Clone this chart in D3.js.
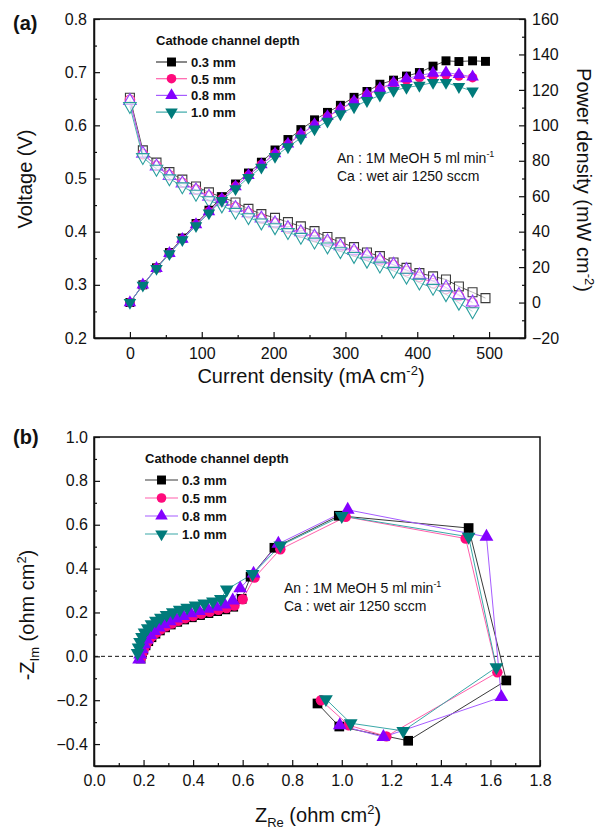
<!DOCTYPE html>
<html>
<head>
<meta charset="utf-8">
<title>Cathode channel depth</title>
<script src="https://d3js.org/d3.v7.min.js"></script>
<style>
  body { margin: 0; background: #fff; }
  svg text { font-family: Arial, "Liberation Sans", sans-serif; fill: #111; }
</style>
</head>
<body>
<svg id="fig" width="598" height="829"></svg>
<script>
// ---- (a) polarisation / power curves ----
var current03 = [0, 18, 37, 55, 73, 92, 110, 128, 147, 165, 183, 202, 220, 238, 257, 275, 293, 312, 330, 348, 367, 385, 403, 422, 440, 458, 477, 495];
var current = [0, 18, 37, 55, 73, 92, 110, 128, 147, 165, 183, 202, 220, 238, 257, 275, 293, 312, 330, 348, 367, 385, 403, 422, 440, 458, 477];

var volt03 = [0.652, 0.553, 0.530, 0.512, 0.498, 0.485, 0.474, 0.465, 0.455, 0.443, 0.433, 0.426, 0.418, 0.410, 0.401, 0.390, 0.380, 0.371, 0.361, 0.354, 0.342, 0.332, 0.322, 0.316, 0.310, 0.297, 0.286, 0.275];
var volt05 = [0.648, 0.546, 0.524, 0.506, 0.492, 0.479, 0.467, 0.457, 0.446, 0.435, 0.425, 0.416, 0.406, 0.398, 0.390, 0.381, 0.372, 0.363, 0.355, 0.346, 0.337, 0.326, 0.315, 0.303, 0.292, 0.279, 0.266];
var volt08 = [0.646, 0.547, 0.523, 0.505, 0.491, 0.478, 0.466, 0.456, 0.445, 0.435, 0.425, 0.416, 0.407, 0.399, 0.391, 0.382, 0.373, 0.364, 0.356, 0.347, 0.338, 0.328, 0.318, 0.307, 0.295, 0.281, 0.267];
var volt10 = [0.636, 0.540, 0.518, 0.500, 0.485, 0.471, 0.459, 0.449, 0.437, 0.427, 0.417, 0.408, 0.399, 0.390, 0.381, 0.372, 0.363, 0.354, 0.345, 0.336, 0.326, 0.315, 0.304, 0.294, 0.282, 0.266, 0.250];

var power03 = [0, 10.0, 19.6, 28.2, 36.4, 44.6, 52.1, 59.5, 66.9, 73.1, 79.2, 86.1, 92.0, 97.6, 103.1, 107.3, 111.3, 115.8, 119.1, 123.2, 125.5, 127.8, 129.8, 133.4, 136.4, 136.0, 136.4, 136.1];
var power05 = [0, 9.8, 19.4, 27.8, 35.9, 44.1, 51.4, 58.5, 65.6, 71.8, 77.8, 84.0, 89.3, 94.7, 100.2, 104.8, 109.0, 113.3, 117.2, 120.4, 123.7, 125.5, 126.9, 127.9, 128.5, 127.8, 126.9];
var power08 = [0, 10.0, 19.3, 27.8, 35.8, 44.0, 51.3, 58.4, 65.4, 71.8, 77.8, 84.0, 89.5, 95.0, 100.5, 105.0, 109.3, 113.6, 117.5, 120.8, 124.0, 126.3, 128.2, 129.5, 129.8, 128.7, 127.4];
var power10 = [0, 9.7, 19.2, 27.5, 35.4, 43.3, 50.5, 57.5, 64.2, 70.5, 76.3, 82.4, 87.8, 92.8, 97.9, 102.3, 106.4, 110.4, 113.9, 116.9, 119.6, 121.3, 122.5, 124.1, 124.1, 121.8, 119.3];

// ---- (b) impedance spectra ----
var zre03 = [0.188, 0.192, 0.199, 0.208, 0.219, 0.232, 0.248, 0.266, 0.287, 0.31, 0.336, 0.364, 0.395, 0.428, 0.462, 0.497, 0.53, 0.562, 0.596, 0.632, 0.728, 0.988, 1.512, 1.664, 1.268, 0.99, 0.902];
var zim03 = [-0.01, 0.01, 0.03, 0.05, 0.069, 0.087, 0.103, 0.118, 0.132, 0.145, 0.157, 0.168, 0.178, 0.188, 0.197, 0.206, 0.214, 0.226, 0.262, 0.363, 0.495, 0.641, 0.585, -0.11, -0.385, -0.32, -0.215];
var zre05 = [0.19, 0.195, 0.202, 0.211, 0.222, 0.236, 0.252, 0.27, 0.291, 0.314, 0.34, 0.368, 0.4, 0.433, 0.467, 0.502, 0.535, 0.567, 0.6, 0.648, 0.752, 1.016, 1.50, 1.628, 1.18, 1.028, 0.916];
var zim05 = [-0.005, 0.015, 0.035, 0.055, 0.074, 0.092, 0.108, 0.123, 0.137, 0.15, 0.162, 0.173, 0.184, 0.194, 0.203, 0.212, 0.22, 0.232, 0.26, 0.359, 0.488, 0.636, 0.537, -0.073, -0.365, -0.314, -0.2];
var zre08 = [0.182, 0.186, 0.193, 0.202, 0.213, 0.227, 0.243, 0.261, 0.282, 0.305, 0.331, 0.359, 0.39, 0.423, 0.458, 0.493, 0.527, 0.56, 0.59, 0.644, 0.744, 1.024, 1.584, 1.644, 1.168, 0.992];
var zim08 = [-0.015, 0.008, 0.032, 0.055, 0.077, 0.097, 0.115, 0.131, 0.146, 0.16, 0.172, 0.184, 0.196, 0.207, 0.217, 0.226, 0.236, 0.255, 0.31, 0.377, 0.513, 0.668, 0.545, -0.186, -0.368, -0.314];
var zre10 = [0.176, 0.18, 0.186, 0.194, 0.204, 0.217, 0.232, 0.25, 0.27, 0.293, 0.318, 0.346, 0.376, 0.41, 0.445, 0.48, 0.512, 0.536, 0.64, 0.752, 1.0, 1.512, 1.624, 1.248, 1.036, 0.936];
var zim10 = [0.015, 0.04, 0.065, 0.088, 0.109, 0.128, 0.146, 0.162, 0.176, 0.189, 0.201, 0.212, 0.222, 0.232, 0.241, 0.25, 0.262, 0.305, 0.375, 0.505, 0.64, 0.545, -0.05, -0.34, -0.305, -0.195];

var depths = ["0.3 mm", "0.5 mm", "0.8 mm", "1.0 mm"];

// tick labels
var currentTicks = [0, 100, 200, 300, 400, 500];
var voltTicks = [0.2, 0.3, 0.4, 0.5, 0.6, 0.7, 0.8];
var powerTicks = [-20, 0, 20, 40, 60, 80, 100, 120, 140, 160];
var zreTicks = [0.0, 0.2, 0.4, 0.6, 0.8, 1.0, 1.2, 1.4, 1.6, 1.8];
var zimTicks = [-0.4, -0.2, 0.0, 0.2, 0.4, 0.6, 0.8, 1.0];

// styles
var fillColors = ["#000000", "#ff0a7c", "#8400ff", "#007b7b"];
var openColors = ["#3a3a3a", "#ff3b9a", "#9440ff", "#2a9e9e"];
var lineColors = ["#3a3a3a", "#ff5fab", "#a65cff", "#3aa8a8"];
var shapes = [d3.symbolSquare, d3.symbolCircle, d3.symbolTriangle, d3.symbolTriangle];
var sizes = [80, 72, 68, 68];

var svg = d3.select("#fig");
var font = "Arial, 'Liberation Sans', sans-serif";

function markerTransform(k, x, y) {
    return "translate(" + x + "," + y + ")" + (k == 3 ? " rotate(180)" : "");
}

function styleAxis(g, size) {
    g.select(".domain").attr("stroke-width", 1.5).attr("stroke", "#111");
    g.selectAll(".tick line").attr("stroke-width", 1.2).attr("stroke", "#111");
    g.selectAll("text").attr("font-size", size).attr("font-family", font).attr("fill", "#111");
}

function minorAxis(axis, g, values) {
    g.call(axis.tickValues(values).tickSize(-3).tickFormat(""));
    g.select(".domain").remove();
    g.selectAll(".tick line").attr("stroke-width", 1.2).attr("stroke", "#111");
}

function legend(x, y, gap, lineLen) {
    var g = svg.append("g");
    g.append("text").attr("x", x).attr("y", y)
        .attr("font-size", 13).attr("font-weight", "bold")
        .text("Cathode channel depth");
    depths.forEach(function(name, k) {
        var yy = y + 17 + k * gap;
        g.append("line")
            .attr("x1", x).attr("x2", x + lineLen)
            .attr("y1", yy).attr("y2", yy)
            .attr("stroke", lineColors[k]).attr("stroke-width", 1.2);
        g.append("path")
            .attr("d", d3.symbol().type(shapes[k]).size(sizes[k])())
            .attr("transform", markerTransform(k, x + lineLen / 2, yy))
            .attr("fill", fillColors[k]);
        g.append("text").attr("x", x + lineLen + 4).attr("y", yy + 5)
            .attr("font-size", 13).attr("font-weight", "bold")
            .text(name);
    });
}

function condition(x, y) {
    var t1 = svg.append("text").attr("x", x).attr("y", y).attr("font-size", 14);
    t1.append("tspan").text("An : 1M MeOH 5 ml min");
    t1.append("tspan").attr("font-size", 9).attr("dy", -6).text("-1");
    svg.append("text").attr("x", x).attr("y", y + 18).attr("font-size", 14)
        .text("Ca : wet air 1250 sccm");
}

// ================= panel (a) =================
var boxA = {left: 94, right: 525, top: 19, bottom: 338};
var xA = d3.scaleLinear().domain([-50, 550]).range([boxA.left, boxA.right]);
var yV = d3.scaleLinear().domain([0.2, 0.8]).range([boxA.bottom, boxA.top]);
var yP = d3.scaleLinear().domain([-20, 160]).range([boxA.bottom, boxA.top]);

svg.append("rect")
    .attr("x", boxA.left).attr("y", boxA.top)
    .attr("width", boxA.right - boxA.left).attr("height", boxA.bottom - boxA.top)
    .attr("fill", "none").attr("stroke", "#111").attr("stroke-width", 1.5);

minorAxis(d3.axisBottom(xA), svg.append("g").attr("transform", "translate(0," + boxA.bottom + ")"), [-50, 50, 150, 250, 350, 450, 550]);
minorAxis(d3.axisLeft(yV), svg.append("g").attr("transform", "translate(" + boxA.left + ",0)"), [0.25, 0.35, 0.45, 0.55, 0.65, 0.75]);
minorAxis(d3.axisRight(yP), svg.append("g").attr("transform", "translate(" + boxA.right + ",0)"), [-10, 10, 30, 50, 70, 90, 110, 130, 150]);

svg.append("g").attr("transform", "translate(0," + boxA.bottom + ")")
    .call(d3.axisBottom(xA).tickValues(currentTicks).tickSize(-6).tickSizeOuter(0).tickPadding(10))
    .call(styleAxis, 16);
svg.append("g").attr("transform", "translate(" + boxA.left + ",0)")
    .call(d3.axisLeft(yV).tickValues(voltTicks).tickFormat(d3.format(".1f")).tickSize(-6).tickSizeOuter(0).tickPadding(7))
    .call(styleAxis, 16);
svg.append("g").attr("transform", "translate(" + boxA.right + ",0)")
    .call(d3.axisRight(yP).tickValues(powerTicks).tickSize(-6).tickSizeOuter(0).tickPadding(7))
    .call(styleAxis, 16);

var voltSeries = [[current03, volt03], [current, volt05], [current, volt08], [current, volt10]];
var powerSeries = [[current03, power03], [current, power05], [current, power08], [current, power10]];

voltSeries.forEach(function(s, k) {
    var pts = d3.zip(s[0], s[1]);
    svg.append("path").datum(pts)
        .attr("d", d3.line().x(function(d) { return xA(d[0]); }).y(function(d) { return yV(d[1]); }))
        .attr("fill", "none").attr("stroke", lineColors[k]).attr("stroke-width", 0.9);
    svg.append("g").selectAll("path").data(pts).enter().append("path")
        .attr("d", d3.symbol().type(shapes[k]).size(sizes[k]))
        .attr("transform", function(d) { return markerTransform(k, xA(d[0]), yV(d[1])); })
        .attr("fill", "#fff").attr("fill-opacity", 0.6)
        .attr("stroke", openColors[k]).attr("stroke-width", 1.1);
});

powerSeries.forEach(function(s, k) {
    var pts = d3.zip(s[0], s[1]);
    svg.append("path").datum(pts)
        .attr("d", d3.line().x(function(d) { return xA(d[0]); }).y(function(d) { return yP(d[1]); }))
        .attr("fill", "none").attr("stroke", lineColors[k]).attr("stroke-width", 0.9);
    svg.append("g").selectAll("path").data(pts).enter().append("path")
        .attr("d", d3.symbol().type(shapes[k]).size(sizes[k]))
        .attr("transform", function(d) { return markerTransform(k, xA(d[0]), yP(d[1])); })
        .attr("fill", fillColors[k]);
});

legend(156, 45, 16.7, 31);
condition(337, 163);

svg.append("text").attr("x", 13).attr("y", 30).attr("font-size", 20).attr("font-weight", "bold").text("(a)");

svg.append("text").attr("transform", "translate(32,179) rotate(-90)")
    .attr("text-anchor", "middle").attr("font-size", 20).text("Voltage (V)");

var pt = svg.append("text").attr("transform", "translate(577,180) rotate(90)")
    .attr("text-anchor", "middle").attr("font-size", 20);
pt.append("tspan").text("Power density (mW cm");
pt.append("tspan").attr("font-size", 13).attr("dy", -8).text("-2");
pt.append("tspan").attr("dy", 8).text(")");

var xt = svg.append("text").attr("x", 311).attr("y", 383)
    .attr("text-anchor", "middle").attr("font-size", 20);
xt.append("tspan").text("Current density (mA cm");
xt.append("tspan").attr("font-size", 13).attr("dy", -8).text("-2");
xt.append("tspan").attr("dy", 8).text(")");

// ================= panel (b) =================
var boxB = {left: 94, right: 540, top: 437, bottom: 766};
var xB = d3.scaleLinear().domain([0, 1.8]).range([boxB.left, boxB.right]);
var yB = d3.scaleLinear().domain([-0.5, 1.0]).range([boxB.bottom, boxB.top]);

svg.append("rect")
    .attr("x", boxB.left).attr("y", boxB.top)
    .attr("width", boxB.right - boxB.left).attr("height", boxB.bottom - boxB.top)
    .attr("fill", "none").attr("stroke", "#111").attr("stroke-width", 1.5);

minorAxis(d3.axisBottom(xB), svg.append("g").attr("transform", "translate(0," + boxB.bottom + ")"), [0.1, 0.3, 0.5, 0.7, 0.9, 1.1, 1.3, 1.5, 1.7]);
minorAxis(d3.axisLeft(yB), svg.append("g").attr("transform", "translate(" + boxB.left + ",0)"), [-0.3, -0.1, 0.1, 0.3, 0.5, 0.7, 0.9]);

svg.append("g").attr("transform", "translate(0," + boxB.bottom + ")")
    .call(d3.axisBottom(xB).tickValues(zreTicks).tickFormat(d3.format(".1f")).tickSize(-6).tickSizeOuter(0).tickPadding(9))
    .call(styleAxis, 16);
svg.append("g").attr("transform", "translate(" + boxB.left + ",0)")
    .call(d3.axisLeft(yB).tickValues(zimTicks).tickFormat(d3.format(".1f")).tickSize(-6).tickSizeOuter(0).tickPadding(6))
    .call(styleAxis, 16);

svg.append("line")
    .attr("x1", xB(0)).attr("x2", xB(1.8)).attr("y1", yB(0)).attr("y2", yB(0))
    .attr("stroke", "#111").attr("stroke-width", 1).attr("stroke-dasharray", "4,3");

var nyquist = [[zre03, zim03], [zre05, zim05], [zre08, zim08], [zre10, zim10]];
nyquist.forEach(function(s, k) {
    var pts = d3.zip(s[0], s[1]);
    svg.append("path").datum(pts)
        .attr("d", d3.line().x(function(d) { return xB(d[0]); }).y(function(d) { return yB(d[1]); }))
        .attr("fill", "none").attr("stroke", lineColors[k]).attr("stroke-width", 1);
});
nyquist.forEach(function(s, k) {
    var pts = d3.zip(s[0], s[1]);
    svg.append("g").selectAll("path").data(pts).enter().append("path")
        .attr("d", d3.symbol().type(shapes[k]).size(sizes[k] + 14))
        .attr("transform", function(d) { return markerTransform(k, xB(d[0]), yB(d[1])); })
        .attr("fill", fillColors[k]);
});

legend(145, 463, 18, 33);
condition(284, 593);

svg.append("text").attr("x", 13).attr("y", 444).attr("font-size", 20).attr("font-weight", "bold").text("(b)");

var zt = svg.append("text").attr("transform", "translate(34,615) rotate(-90)")
    .attr("text-anchor", "middle").attr("font-size", 20);
zt.append("tspan").text("-Z");
zt.append("tspan").attr("font-size", 13).attr("dy", 5).text("Im");
zt.append("tspan").attr("dy", -5).text(" (ohm cm");
zt.append("tspan").attr("font-size", 13).attr("dy", -8).text("2");
zt.append("tspan").attr("dy", 8).text(")");

var rt = svg.append("text").attr("x", 318).attr("y", 822)
    .attr("text-anchor", "middle").attr("font-size", 20);
rt.append("tspan").text("Z");
rt.append("tspan").attr("font-size", 13).attr("dy", 5).text("Re");
rt.append("tspan").attr("dy", -5).text(" (ohm cm");
rt.append("tspan").attr("font-size", 13).attr("dy", -8).text("2");
rt.append("tspan").attr("dy", 8).text(")");
</script>
</body>
</html>
